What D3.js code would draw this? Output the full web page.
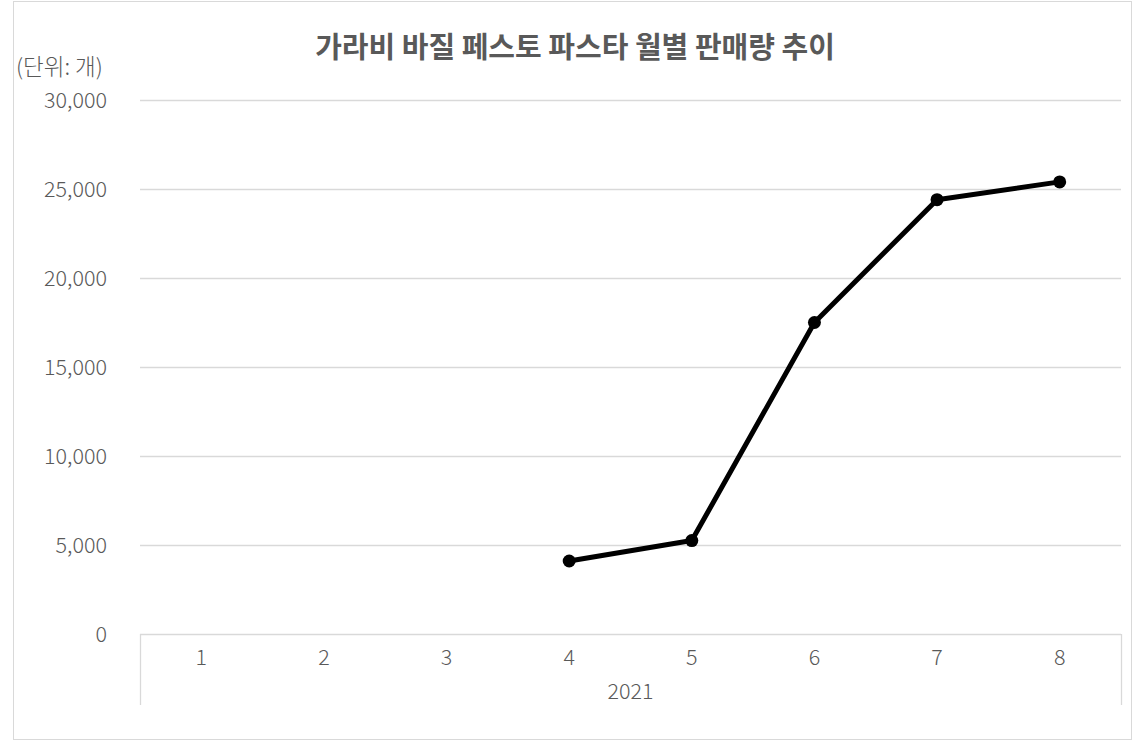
<!DOCTYPE html>
<html>
<head>
<meta charset="utf-8">
<script src="https://cdn.jsdelivr.net/npm/d3@7"></script>
<style>
  body { margin: 0; background: #fff; }
  svg text { font-family: "Noto Sans CJK KR", "Noto Sans", sans-serif; fill: #595959; font-weight: 300; }
</style>
</head>
<body>
<svg id="chart" width="1134" height="742"></svg>
<script>
const title = '가라비 바질 페스토 파스타 월별 판매량 추이'
const unitLabel = '(단위: 개)'
const year = '2021'
const months = ['1', '2', '3', '4', '5', '6', '7', '8']
// null = no sales yet
const sales = [null, null, null, 4100, 5250, 17500, 24400, 25400]
const yTicks = [0, 5000, 10000, 15000, 20000, 25000, 30000]

const svg = d3.select('#chart')
const plotL = 140, plotR = 1121, plotT = 100, plotB = 634

// outer frame
svg.append('rect')
  .attr('x', 13.5).attr('y', 1.5)
  .attr('width', 1118).attr('height', 738)
  .attr('fill', '#fff')
  .attr('stroke', '#d9d9d9')

const x = d3.scaleBand()
  .domain(months)
  .range([plotL, plotR])

const y = d3.scaleLinear()
  .domain([0, 30000])
  .range([plotB, plotT])

const fmt = d3.format(',')

//* * gridlines
svg.append('g')
  .selectAll('line')
  .data(yTicks)
  .enter().append('line')
  .attr('x1', plotL)
  .attr('x2', plotR)
  .attr('y1', (d) => Math.round(y(d)) + 0.5)
  .attr('y2', (d) => Math.round(y(d)) + 0.5)
  .attr('stroke', '#d9d9d9')
  .attr('stroke-width', 1.3)

//* * y labels
svg.append('g')
  .selectAll('text')
  .data(yTicks)
  .enter().append('text')
  .attr('x', 107)
  .attr('y', (d) => y(d))
  .attr('dy', '0.36em')
  .attr('text-anchor', 'end')
  .attr('font-size', 21.5)
  .text((d) => fmt(d))

//* * x axis frame lines
svg.append('g')
  .selectAll('line')
  .data([plotL, plotR])
  .enter().append('line')
  .attr('x1', (d) => d + 0.5)
  .attr('x2', (d) => d + 0.5)
  .attr('y1', plotB)
  .attr('y2', 705)
  .attr('stroke', '#d9d9d9')
  .attr('stroke-width', 1.3)

//* * x labels
svg.append('g')
  .selectAll('text')
  .data(months)
  .enter().append('text')
  .attr('x', (d) => x(d) + x.bandwidth() / 2)
  .attr('y', 665)
  .attr('text-anchor', 'middle')
  .attr('font-size', 21.5)
  .text((d) => d)

svg.append('text')
  .attr('x', (plotL + plotR) / 2)
  .attr('y', 699)
  .attr('text-anchor', 'middle')
  .attr('font-size', 21.5)
  .text(year)

//* * line + markers
const pts = months.map((m, i) => ({ m: m, v: sales[i] })).filter((d) => d.v !== null)

const line = d3.line()
  .x((d) => x(d.m) + x.bandwidth() / 2)
  .y((d) => y(d.v))

svg.append('path')
  .datum(pts)
  .attr('d', line)
  .attr('fill', 'none')
  .attr('stroke', '#000')
  .attr('stroke-width', 5)
  .attr('stroke-linejoin', 'round')

svg.append('g')
  .selectAll('circle')
  .data(pts)
  .enter().append('circle')
  .attr('cx', (d) => x(d.m) + x.bandwidth() / 2)
  .attr('cy', (d) => y(d.v))
  .attr('r', 6.5)
  .attr('fill', '#000')

//* * title + unit
svg.append('text')
  .attr('x', 575)
  .attr('y', 58)
  .attr('text-anchor', 'middle')
  .attr('font-size', 29)
  .style('font-weight', 'bold')
  .text(title)

svg.append('text')
  .attr('x', 16)
  .attr('y', 75)
  .attr('font-size', 22.5)
  .text(unitLabel)
</script>
</body>
</html>
